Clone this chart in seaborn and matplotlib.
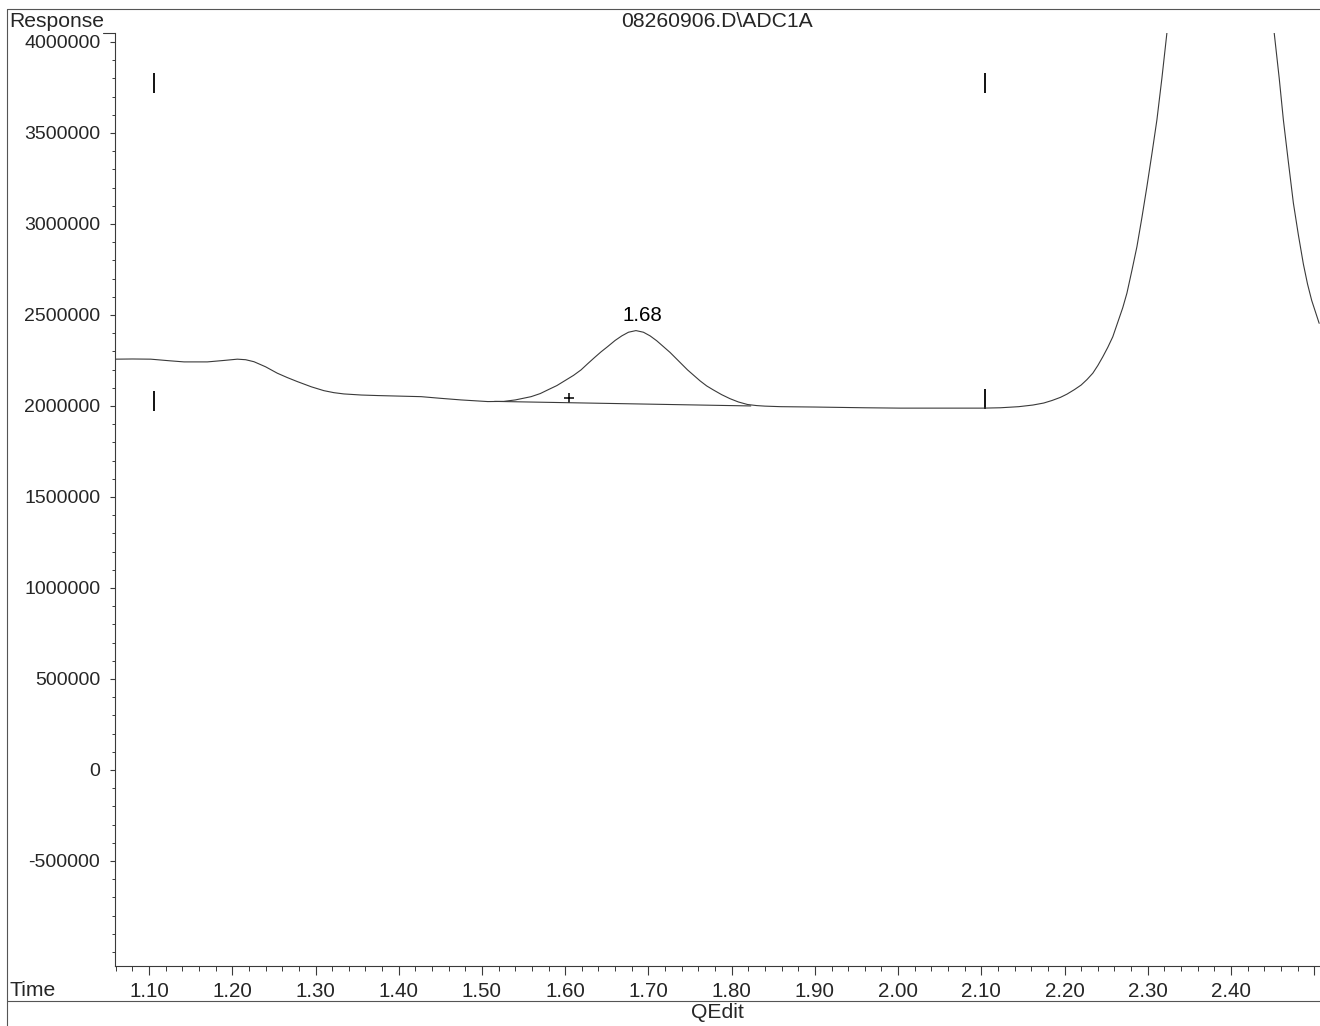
import matplotlib
matplotlib.use("Agg")
import matplotlib.pyplot as plt
from matplotlib.lines import Line2D
from matplotlib.ticker import MultipleLocator, FuncFormatter
import pandas as pd
import seaborn as sns

# Detector trace (retention time in minutes, detector response)
time_min = [1.059, 1.080, 1.102, 1.125, 1.142, 1.170, 1.190, 1.206, 1.216, 1.226,
            1.240, 1.254, 1.266, 1.278, 1.295, 1.310, 1.322, 1.334, 1.355, 1.375,
            1.427, 1.450, 1.475, 1.507, 1.526, 1.540, 1.559, 1.570, 1.579, 1.590,
            1.600, 1.610, 1.619, 1.627, 1.635, 1.643, 1.651, 1.660, 1.668, 1.676,
            1.685, 1.694, 1.702, 1.710, 1.718, 1.726, 1.733, 1.740, 1.747, 1.755,
            1.762, 1.770, 1.778, 1.788, 1.798, 1.808, 1.819, 1.830, 1.840, 1.859,
            1.900, 1.960, 2.003, 2.050, 2.102, 2.123, 2.145, 2.162, 2.175, 2.185,
            2.195, 2.203, 2.212, 2.220, 2.227, 2.234, 2.240, 2.246, 2.252, 2.258,
            2.264, 2.270, 2.275, 2.281, 2.287, 2.293, 2.299, 2.305, 2.311, 2.317,
            2.323, 2.329, 2.335, 2.390, 2.440, 2.446, 2.452, 2.458, 2.463, 2.469,
            2.475, 2.481, 2.487, 2.492, 2.497, 2.502, 2.506]
response = [2.257e6, 2.258e6, 2.257e6, 2.248e6, 2.242e6, 2.242e6, 2.250e6, 2.257e6, 2.254e6, 2.243e6,
            2.215e6, 2.180e6, 2.156e6, 2.134e6, 2.105e6, 2.084e6, 2.073e6, 2.066e6, 2.060e6, 2.057e6,
            2.051e6, 2.042e6, 2.033e6, 2.024e6, 2.025e6, 2.033e6, 2.051e6, 2.068e6, 2.088e6, 2.112e6,
            2.140e6, 2.168e6, 2.198e6, 2.232e6, 2.265e6, 2.297e6, 2.326e6, 2.360e6, 2.385e6, 2.405e6,
            2.414e6, 2.405e6, 2.385e6, 2.358e6, 2.326e6, 2.294e6, 2.262e6, 2.230e6, 2.198e6, 2.166e6,
            2.138e6, 2.110e6, 2.088e6, 2.062e6, 2.040e6, 2.022e6, 2.008e6, 2.002e6, 1.999e6, 1.996e6,
            1.994e6, 1.990e6, 1.988e6, 1.988e6, 1.988e6, 1.990e6, 1.996e6, 2.005e6, 2.016e6, 2.030e6,
            2.047e6, 2.065e6, 2.090e6, 2.115e6, 2.145e6, 2.180e6, 2.222e6, 2.270e6, 2.322e6, 2.380e6,
            2.460e6, 2.540e6, 2.620e6, 2.745e6, 2.875e6, 3.035e6, 3.205e6, 3.385e6, 3.571e6, 3.800e6,
            4.048e6, 4.300e6, 4.550e6, 6.500e6, 4.560e6, 4.300e6, 4.048e6, 3.800e6, 3.571e6, 3.340e6,
            3.115e6, 2.940e6, 2.780e6, 2.670e6, 2.580e6, 2.510e6, 2.454e6]

# Integrated peak: apex, label, drawn baseline and its marker
peak_time = 1.685
peak_response = 2.414e6
peak_label = "1.68"
baseline_time = [1.515, 1.823]
baseline_response = [2.025e6, 2.000e6]
plus_time = [1.605]
plus_response = [2.044e6]

# Integration event bars
event_time = [1.106, 2.105, 1.106, 2.105]
event_response = [3.775e6, 3.775e6, 2.025e6, 2.037e6]

# Axis ticks
x_major = [1.10, 1.20, 1.30, 1.40, 1.50, 1.60, 1.70, 1.80, 1.90, 2.00, 2.10, 2.20, 2.30, 2.40, 2.50]
y_major = [-500000, 0, 500000, 1000000, 1500000, 2000000, 2500000, 3000000, 3500000, 4000000]

title_text = "08260906.D\\ADC1A"
footer_text = "QEdit"

sns.set_style("ticks")
plt.rcParams["font.family"] = ["Liberation Sans", "DejaVu Sans"]
plt.rcParams["axes.unicode_minus"] = False

W, H = 1320, 1026
fig = plt.figure(figsize=(W / 100, H / 100), dpi=100)
ax = fig.add_axes([115 / W, 1 - 966 / H, (W - 115) / W, (966 - 33) / H])

ink = "#3a3a3a"
trace = pd.DataFrame({"time": time_min, "response": response})
sns.lineplot(data=trace, x="time", y="response", ax=ax, sort=False, estimator=None,
             color=ink, linewidth=0.8)
sns.lineplot(x=baseline_time, y=baseline_response, ax=ax, sort=False, estimator=None,
             color=ink, linewidth=0.8)
sns.scatterplot(x=plus_time, y=plus_response, ax=ax, marker="+", s=60,
                color="black", linewidth=1.1)
sns.scatterplot(x=event_time, y=event_response, ax=ax, marker="|", s=210,
                color="black", linewidth=1.3)
ax.annotate(peak_label, (peak_time, peak_response), xytext=(4.5, 4),
            textcoords="offset points", ha="center", va="bottom", fontsize=14.8,
            color="black")

ax.set_xlim(1.059, 2.507)
ax.set_ylim(-1.077e6, 4.049e6)
ax.set_xlabel("")
ax.set_ylabel("")

ax.set_xticks(x_major)
ax.xaxis.set_minor_locator(MultipleLocator(0.02))
ax.xaxis.set_major_formatter(FuncFormatter(lambda v, p: "" if v > 2.45 else f"{v:.2f}"))
ax.set_yticks(y_major)
ax.yaxis.set_minor_locator(MultipleLocator(100000))
ax.yaxis.set_major_formatter(FuncFormatter(lambda v, p: f"{int(round(v))}"))

ax.tick_params(axis="x", which="major", length=6.5, width=0.8, pad=5.0,
               labelsize=14.8, color=ink, direction="out")
ax.tick_params(axis="x", which="minor", length=3.6, width=0.7, color=ink, direction="out")
ax.tick_params(axis="y", which="major", length=3.6, width=0.8, pad=7,
               labelsize=14, color=ink, direction="out")
ax.tick_params(axis="y", which="minor", length=2.0, width=0.7, color=ink, direction="out")

for side in ("top", "right"):
    ax.spines[side].set_visible(False)
for side in ("left", "bottom"):
    ax.spines[side].set_color(ink)
    ax.spines[side].set_linewidth(0.8)


def fx(px):
    return px / W


def fy(py):
    return 1 - py / H


frame = "#555555"
fig.add_artist(Line2D([fx(7), fx(W)], [fy(9), fy(9)], color=frame, lw=0.8))
fig.add_artist(Line2D([fx(7), fx(7)], [fy(9), fy(H)], color=frame, lw=0.8))
fig.add_artist(Line2D([fx(7), fx(W)], [fy(1001), fy(1001)], color=frame, lw=0.8))
fig.add_artist(Line2D([fx(103), fx(115)], [fy(33), fy(33)], color=ink, lw=0.8))

fig.text(fx(9), fy(22), "Response", ha="left", va="center", fontsize=15.2)
fig.text(fx(10), fy(990), "Time", ha="left", va="center", fontsize=15.2)
fig.text(fx(717.5), fy(22), title_text, ha="center", va="center", fontsize=15.2)
fig.text(fx(717.5), fy(1013), footer_text, ha="center", va="center", fontsize=15.2)

fig.savefig("out.png", dpi=100, facecolor="white")
